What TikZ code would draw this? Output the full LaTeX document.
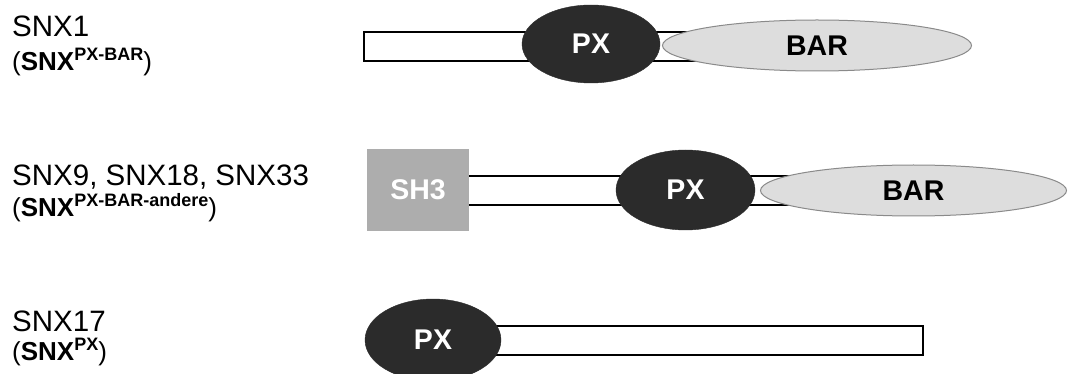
\documentclass[tikz,border=0pt]{standalone}
\usepackage{fontspec}
\setmainfont{Liberation Sans}
\usetikzlibrary{shapes.geometric}
\definecolor{pxdark}{HTML}{2B2B2B}
\definecolor{barfill}{HTML}{DDDDDD}
\definecolor{barline}{HTML}{8A8A8A}
\definecolor{shgray}{HTML}{ADADAD}
\newcommand{\supx}[1]{\raisebox{10pt}{\fontsize{18}{20}\selectfont\bfseries #1}}
\begin{document}
\begin{tikzpicture}[x=1pt,y=-1pt,
  chain/.style={draw=black,line width=2pt,fill=white},
  pxnode/.style={ellipse,fill=pxdark,draw=pxdark,inner sep=0pt,text=white,font=\fontsize{28.5}{30}\selectfont\bfseries},
  barnode/.style={ellipse,fill=barfill,draw=barline,line width=1pt,inner sep=0pt,text=black,font=\fontsize{28.5}{30}\selectfont\bfseries},
  shnode/.style={rectangle,fill=shgray,inner sep=0pt,text=white,font=\fontsize{28.5}{30}\selectfont\bfseries},
  nameA/.style={anchor=base west,inner sep=0pt,font=\fontsize{29.5}{32}\selectfont},
  nameB/.style={anchor=base west,inner sep=0pt,font=\fontsize{26}{30}\selectfont}]
\useasboundingbox (0,0) rectangle (1068,374);
% row 1
\node[nameA] (n1a) at (12,37) {SNX1};
\node[nameB] (n1b) at (12,71) {(\textbf{SNX}\supx{PX-BAR})};
\draw[chain] (364,32) rectangle (720,61);
\node[pxnode,minimum width=138pt,minimum height=78pt] (px1) at (591,44) {PX};
\node[barnode,minimum width=309pt,minimum height=51pt] (bar1) at (817,45.5) {BAR};
% row 2
\node[nameA] (n2a) at (12,186) {SNX9, SNX18, SNX33};
\node[nameB] (n2b) at (12,217) {(\textbf{SNX}\supx{PX-BAR-andere})};
\draw[chain] (440,176) rectangle (800,205);
\node[shnode,minimum width=102pt,minimum height=82pt] (sh3) at (418,190) {SH3};
\node[pxnode,minimum width=139pt,minimum height=80pt] (px2) at (685.5,190) {PX};
\node[barnode,minimum width=306pt,minimum height=51pt] (bar2) at (913.5,190.5) {BAR};
% row 3
\node[nameA] (n3a) at (12,331) {SNX17};
\node[nameB] (n3b) at (12,360) {(\textbf{SNX}\supx{PX})};
\draw[chain] (480,326) rectangle (923,355);
\node[pxnode,minimum width=136pt,minimum height=82pt] (px3) at (433,340) {PX};
\end{tikzpicture}
\end{document}
